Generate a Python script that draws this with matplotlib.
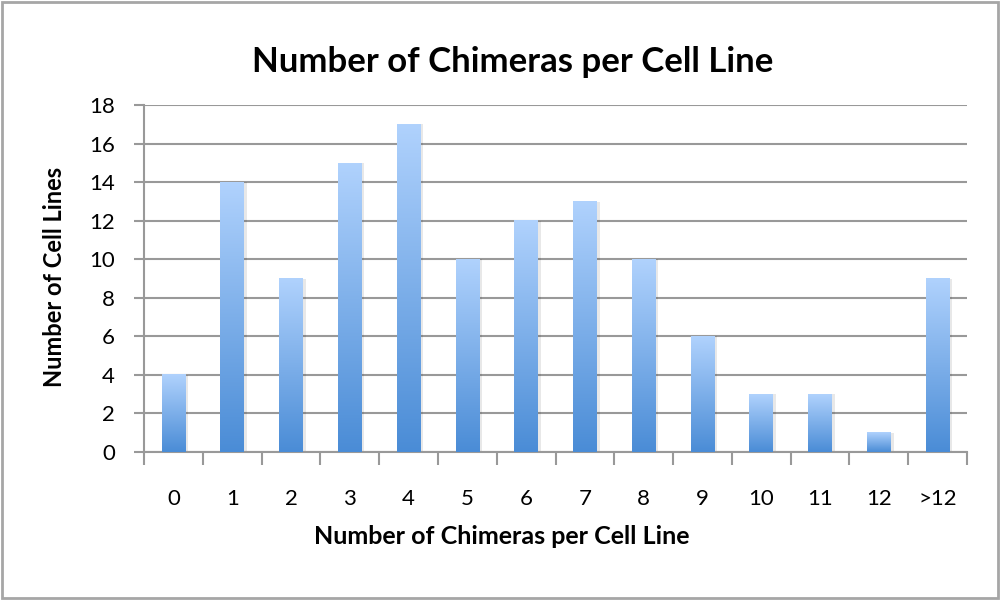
import matplotlib.pyplot as plt
import numpy as np
from matplotlib.colors import LinearSegmentedColormap

categories = ['0', '1', '2', '3', '4', '5', '6', '7', '8', '9', '10', '11', '12', '>12']
counts = [4, 14, 9, 15, 17, 10, 12, 13, 10, 6, 3, 3, 1, 9]

plt.rcParams['font.family'] = ['Lato', 'DejaVu Sans']

fig = plt.figure(figsize=(10, 6), dpi=100)
ax = fig.add_axes([0.144, 0.2467, 0.823, 0.578])

cmap = LinearSegmentedColormap.from_list('bar', ['#4a8cd6', '#b0d2fd'])
grad = np.linspace(0, 1, 256).reshape(-1, 1)
width = 0.4
x = np.arange(len(categories))
for xi, h in zip(x, counts):
    # faint shadow
    ax.bar(xi + 0.05, h, width, bottom=0, color='#000000', alpha=0.09, zorder=2, linewidth=0)
    ax.imshow(grad, extent=[xi - width / 2, xi + width / 2, 0, h], origin='lower',
              cmap=cmap, aspect='auto', zorder=3)

ax.set_xlim(-0.5, len(categories) - 0.5)
ax.set_ylim(0, 18)
ax.set_yticks(range(0, 19, 2))
ax.set_xticks(x)
ax.set_xticklabels(categories)
ax.set_xticks(np.arange(-0.5, len(categories)), minor=True)
ax.tick_params(axis='x', which='major', length=0, pad=27, labelsize=16)
ax.tick_params(axis='x', which='minor', length=9, width=1.5, color='#999999', direction='out')
ax.tick_params(axis='y', length=7, width=1.5, color='#999999', labelsize=16, pad=14)

ax.yaxis.grid(True, color='#999999', linewidth=1.5, zorder=0)
ax.set_axisbelow(True)
for s in ['top', 'right']:
    ax.spines[s].set_visible(False)
for s in ['left', 'bottom']:
    ax.spines[s].set_color('#999999')
    ax.spines[s].set_linewidth(1.5)

fig.text(0.513, 1 - 62 / 600, 'Number of Chimeras per Cell Line', fontsize=25,
         fontweight='bold', ha='center', va='center')
fig.text(0.502, 1 - 536 / 600, 'Number of Chimeras per Cell Line', fontsize=18,
         fontweight='bold', ha='center', va='center')
fig.text(0.055, 1 - 277 / 600, 'Number of Cell Lines', fontsize=17,
         fontweight='bold', ha='center', va='center', rotation=90)

fig.patches.append(plt.Rectangle((0.002, 0.003), 0.996, 0.994, transform=fig.transFigure,
                                 fill=False, edgecolor='#a6a6a6', linewidth=2))

fig.savefig('out.png', dpi=100)
